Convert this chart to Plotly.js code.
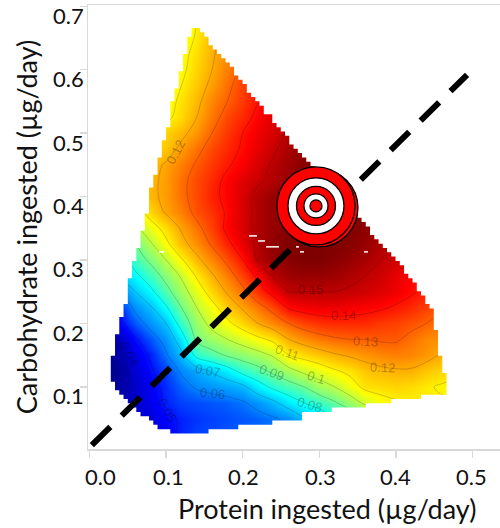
<!DOCTYPE html>
<html><head><meta charset="utf-8">
<script src="https://cdn.plot.ly/plotly-3.0.1.min.js"></script>
<style>html,body{margin:0;padding:0;background:#fff}</style></head>
<body><div id="chart" style="width:500px;height:528px"></div>
<script>
// Protein axis (µg/day) of the gain surface grid
const proteinGrid = [0,0.02,0.04,0.06,0.08,0.10,0.12,0.14,0.16,0.18,0.20,0.22,0.24,0.26,0.28,0.30,0.32,0.34,0.36,0.38,0.40,0.42,0.44,0.46,0.48];
// Carbohydrate axis (µg/day) of the gain surface grid
const carbGrid = [0,0.025,0.05,0.075,0.1,0.125,0.15,0.175,0.2,0.225,0.25,0.275,0.3,0.325,0.35,0.375,0.4,0.425,0.45,0.475,0.5,0.525,0.55,0.575,0.6,0.625,0.65,0.675,0.7];
// Response surface, in thousandths, one row per carbohydrate value
const responseRows = [
[38,39,40,42,44,46,49,52,54,56,57,58,59,60,62,65,68,72,76,80,84,88,92,96,100],
[38,39,41,43,45,47,51,54,55,56,57,58,59,60,63,67,71,75,79,83,87,91,95,99,102],
[38,39,40,42,44,48,51,53,54,55,56,57,59,62,69,74,79,83,87,90,93,96,99,102,104],
[36,38,40,42,46,51,54,55,56,57,59,63,68,75,80,84,89,95,102,107,109,110,110,111,112],
[34,35,38,42,47,52,57,61,63,65,68,76,82,86,90,96,100,106,112,113,114,113,111,109,108],
[34,35,37,43,49,54,61,66,71,76,83,87,92,97,102,105,109,112,116,118,119,119,116,114,112],
[33,34,39,45,51,59,68,83,87,91,94,97,101,110,113,116,119,121,123,125,126,125,123,119,116],
[33,34,41,49,56,63,75,92,96,100,104,108,112,120,124,127,129,130,130,131,131,128,125,123,120],
[33,36,48,56,63,70,84,95,103,108,114,120,125,130,134,136,137,137,137,135,134,132,130,127,124],
[36,44,52,62,69,79,90,100,107,115,121,127,133,141,143,144,144,143,142,141,139,137,134,131,128],
[44,52,60,70,78,87,96,105,114,121,128,136,143,150,150,150,150,149,148,146,144,141,138,135,132],
[50,60,70,78,85,93,101,111,119,126,134,142,151,154,155,155,154,152,150,148,145,142,139,136,133],
[55,64,74,85,92,100,109,118,125,132,140,151,155,157,158,158,157,155,153,150,148,145,142,139,136],
[60,70,80,90,99,108,117,124,131,138,145,152,156,158,158,158,158,157,155,152,150,147,144,141,138],
[68,78,88,98,106,113,121,128,134,142,147,152,155,157,158,158,158,158,156,153,151,148,145,142,139],
[80,90,98,105,114,121,126,132,136,141,147,152,155,157,158,158,158,158,157,154,152,149,146,143,140],
[90,98,104,110,118,122,128,133,138,142,147,152,155,157,158,158,158,158,157,155,152,149,146,143,140],
[94,100,106,112,118,122,128,133,137,142,146,149,152,155,157,158,158,158,157,155,152,149,146,143,140],
[94,100,106,112,117,121,126,131,135,139,143,147,151,154,157,158,158,158,157,155,152,149,146,143,140],
[92,98,104,108,112,116,122,128,133,137,141,145,149,153,156,158,158,158,157,155,152,149,146,143,140],
[90,96,102,106,110,114,118,123,130,135,140,144,147,151,154,156,158,158,157,155,152,149,146,143,140],
[88,94,98,102,105,108,113,120,127,133,137,142,146,150,153,155,157,157,156,154,152,149,146,143,140],
[85,90,94,98,102,106,112,118,125,130,135,140,145,149,152,155,156,156,155,153,151,149,146,143,140],
[82,87,91,95,99,103,110,116,122,128,134,139,143,147,150,153,155,155,154,152,150,148,146,143,140],
[80,85,89,93,97,101,108,114,120,126,132,138,143,147,150,153,154,154,153,151,149,147,145,143,140],
[78,83,87,91,95,99,107,113,119,124,130,136,141,145,148,151,152,152,151,150,148,146,144,142,140],
[77,82,86,90,94,98,105,111,118,124,130,135,140,144,147,149,150,150,150,149,147,145,143,141,139],
[76,81,85,89,93,97,103,110,116,122,128,134,138,142,145,147,148,148,148,147,146,144,142,140,138],
[76,81,85,89,93,97,103,110,116,122,128,134,138,142,145,147,148,148,148,147,146,144,142,140,138]
];
// Sampled region, thousandths of µg/day protein: left and right limit of each grid row, bottom to top
const regionLeft = [103,91,84,75,69,63,58,52,46,40,35,32,29,29,29,29,29,29,31,32,33,35,36,37,39,40,41,42,45,46,48,49,49,50,52,52,53,54,57,58,59,61,63,65,66,67,69,70,71,73,74,75,76,76,78,79,80,82,83,84,87,88,89,91,92,93,95,97,99,100,101,103,104,105,106,108,108,109,110,113,114,116,117,118,120,121,122,123,125,126,127,129,131,135];
const regionRight = [153,193,236,275,275,314,358,396,435,464,464,464,464,464,463,462,459,458,456,456,455,454,454,454,452,450,447,447,447,445,441,437,433,429,425,421,417,413,408,403,399,394,388,383,378,374,369,364,358,353,347,343,337,332,327,322,317,313,307,302,297,293,289,284,279,272,267,263,259,254,249,245,240,236,230,227,221,216,212,208,204,200,195,191,186,181,176,170,165,161,157,153,149,142];
// Small unsampled slivers inside the region
const gapX = [0.2082,0.2187,null,0.22,0.2291,null,0.2304,0.2474,null,0.2696,0.2735,null,0.2748,0.28,null,0.0907,0.0973,null,0.3584,0.3636];
const gapY = [0.338,0.338,null,0.330,0.330,null,0.3207,0.3207,null,0.3207,0.3207,null,0.3128,0.3128,null,0.3128,0.3128,null,0.3128,0.3128];
// Intake rail and target
const railX = [0.003,0.493];
const railY = [0.008,0.592];
const targetX = [0.2957];
const targetY = [0.3853];
const targetBackX = [0.2996];
const targetBackY = [0.3822];
// Contour labels
const contourText = ['0.12','0.04','0.05','0.06','0.07','0.08','0.09','0.1','0.11','0.12','0.13','0.14','0.15'];
const contourLabelX = [0.112,0.053,0.102,0.161,0.154,0.287,0.238,0.296,0.258,0.383,0.360,0.331,0.288];
const contourLabelY = [0.470,0.153,0.063,0.090,0.126,0.072,0.122,0.114,0.154,0.130,0.172,0.212,0.253];
const contourLabelTilt = [-62,62,62,6,10,16,20,18,20,2,3,1,0];
// Tick labels
const xTickValues = [0,0.1,0.2,0.3,0.4,0.5];
const xTickText = ['0.0','0.1','0.2','0.3','0.4','0.5'];
const yTickValues = [0,0.1,0.2,0.3,0.4,0.5,0.6,0.7];
const yTickText = ['0.0','0.1','0.2','0.3','0.4','0.5','0.6','0.7'];

const FONT = 'Lato, "Open Sans", sans-serif';
const zMin = 34, zMax = 158;
const stop = (v, c) => [(v - zMin) / (zMax - zMin), c];
const jet = [stop(34,'#00007F'),stop(48,'#0000FF'),stop(60,'#0080FF'),stop(78,'#00FFFF'),stop(92,'#7FFF7F'),stop(108,'#FFFF00'),stop(126,'#FF7F00'),stop(142,'#FF0000'),stop(158,'#7F0000')];

// White cover outside the sampled region, stepped on the cell grid of the original surface
const cellW = 0.00555, rowH = 0.0068, rowY0 = 0.0299 - rowH / 2;
const snap = t => Math.round(t / 1000 / cellW) * cellW;
const n = regionLeft.length;
const farL = -0.05, farR = 0.6, farB = -0.05, farT = 0.8;
const coverX = [], coverY = [];
const add = (x, y) => { coverX.push(x); coverY.push(y); };
// below and left
add(farR, farB); add(farL, farB); add(farL, farT); add(snap(regionLeft[n - 1]), farT);
for (let i = n - 1; i >= 0; i--) {
  add(snap(regionLeft[i]), rowY0 + rowH * (i + 1));
  add(snap(regionLeft[i]), rowY0 + rowH * i);
}
add(farR, rowY0);
coverX.push(null); coverY.push(null);
// above and right
add(farR, rowY0); add(farR, farT); add(snap(regionLeft[n - 1]), farT);
add(snap(regionLeft[n - 1]), rowY0 + rowH * n);
for (let i = n - 1; i >= 0; i--) {
  add(snap(regionRight[i]), rowY0 + rowH * (i + 1));
  add(snap(regionRight[i]), rowY0 + rowH * i);
}

const ring = (size, color) => ({type:'scatter', mode:'markers', x:targetX, y:targetY, hoverinfo:'skip', showlegend:false,
  marker:{size:size, color:color, line:{color:'#000', width:1.3}}});

const traces = [
  {type:'heatmap', x:proteinGrid, y:carbGrid, z:responseRows, zmin:zMin, zmax:zMax, colorscale:jet, zsmooth:'best', showscale:false, hoverinfo:'skip'},
  {type:'contour', x:proteinGrid, y:carbGrid, z:responseRows, showscale:false, hoverinfo:'skip', autocontour:false,
    contours:{coloring:'none', start:40, end:150, size:10}, line:{color:'rgba(0,0,0,0.24)', width:0.8, smoothing:1}},
  {type:'scatter', mode:'lines', x:coverX, y:coverY, fill:'toself', fillcolor:'#fff', line:{width:0, color:'rgba(0,0,0,0)'}, hoverinfo:'skip', showlegend:false},
  {type:'scatter', mode:'lines', x:gapX, y:gapY, line:{color:'#fff', width:1.5}, hoverinfo:'skip', showlegend:false},
  {type:'scatter', mode:'lines', x:railX, y:railY, line:{color:'#000', width:6, dash:'26px,16px'}, hoverinfo:'skip', showlegend:false},
  {type:'scatter', mode:'markers', x:targetBackX, y:targetBackY, hoverinfo:'skip', showlegend:false, marker:{size:78, color:'#FF0000', line:{color:'#000', width:1.3}}},
  ring(78,'#FF0000'), ring(56,'#FFFFFF'), ring(39,'#FF0000'), ring(24,'#FFFFFF'), ring(12,'#FF0000')
];

const annotations = [];
contourText.forEach((t, i) => annotations.push({xref:'x', yref:'y', x:contourLabelX[i], y:contourLabelY[i], text:t, showarrow:false,
  textangle:contourLabelTilt[i], font:{family:'Liberation Sans, sans-serif', size:13, color:'rgba(0,0,0,0.3)'}}));
const xShift = [10.5,2,1,1,0,-1];
xTickText.forEach((t, i) => annotations.push({xref:'x', yref:'paper', x:xTickValues[i], y:0, xshift:xShift[i], yshift:-27, yanchor:'middle', xanchor:'center',
  text:t, showarrow:false, font:{family:FONT, size:22, color:'#111'}}));
yTickText.forEach((t, i) => annotations.push({xref:'paper', yref:'y', x:0, y:yTickValues[i], xshift:i === 0 ? 2 : -2, yshift:i === 0 ? -8 : -9, xanchor:'right', yanchor:'middle',
  text:t, showarrow:false, font:{family:FONT, size:22, color:'#111'}}));
annotations.push({xref:'paper', yref:'paper', x:0.58, y:0, yshift:-59, xanchor:'center', yanchor:'middle', showarrow:false,
  text:'Protein ingested (µg/day)', font:{family:FONT, size:27, color:'#111'}});

const layout = {
  width:500, height:528, paper_bgcolor:'#fff', plot_bgcolor:'#fff', showlegend:false,
  margin:{l:88, r:0, t:5, b:79},
  annotations:annotations,
  xaxis:{range:[-0.002,0.536], tickvals:xTickValues, showticklabels:false, ticks:'outside', ticklen:7, tickcolor:'#d9d9d9', tickwidth:1.5,
    showgrid:false, zeroline:false, showline:true, linecolor:'#d9d9d9', linewidth:1.5, mirror:true},
  yaxis:{range:[0.002,0.702], tickvals:yTickValues, showticklabels:false, ticks:'outside', ticklen:7, tickcolor:'#d9d9d9', tickwidth:1.5,
    showgrid:false, zeroline:false, showline:true, linecolor:'#d9d9d9', linewidth:1.5,
    title:{text:'Carbohydrate ingested (µg/day)', standoff:34, font:{family:FONT, size:27, color:'#111'}}}
};
Plotly.newPlot('chart', traces, layout, {displayModeBar:false, staticPlot:true});
</script></body></html>
